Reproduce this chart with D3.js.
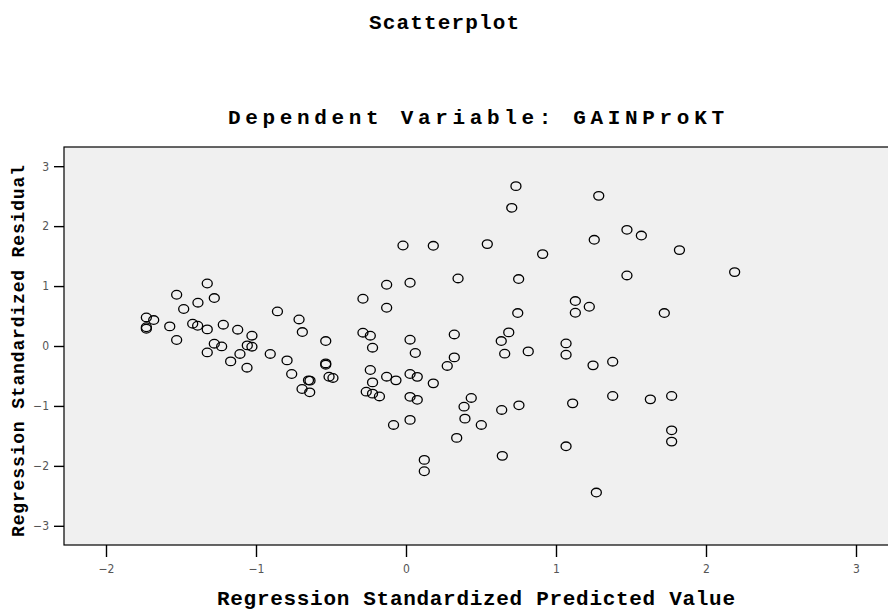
<!DOCTYPE html>
<html>
<head>
<meta charset="utf-8">
<script src="https://cdn.jsdelivr.net/npm/d3@7"></script>
<style>
 body { margin: 0; background: #fff; }
 svg { display: block; }
 .ttl { font-family: "Liberation Mono", "Courier New", monospace; font-weight: bold; fill: #000; }
 .tick text { font-family: "Liberation Sans Narrow", "DejaVu Sans Condensed", "Liberation Sans", sans-serif; font-size: 12px; fill: #555; }
</style>
</head>
<body>
<script>
var width = 888, height = 612;

// regression standardized predicted value (x) and residual (y)
var predicted = [
 -1.325, -1.529, -1.278, -1.387, -1.482, -0.857, -1.731, -1.682, -1.731, -1.731,
 -1.575, -1.422, -1.389, -1.325, -1.218, -1.122, -1.027, -1.529, -1.278, -1.229,
 -1.058, -1.027, -1.325, -1.107, -0.905, -1.169, -1.060,
 -0.713, -0.691, -0.535, -0.793, -0.762, -0.535, -0.535, -0.513, -0.487, -0.650,
 -0.640, -0.693, -0.642,
 -0.287, -0.129, 0.027, -0.129, -0.020, 0.182, 0.542, 0.347, 0.733, 0.705,
 0.911, 0.751, 0.745, -0.287, -0.238, -0.223, 0.027, 0.062, 0.322, 0.322,
 0.275, 0.685, 0.635, 0.658, 0.815, -0.238, -0.223, -0.129, -0.067, 0.027,
 0.075, 0.182, -0.265, -0.223, -0.177, 0.027, 0.075, 0.435, 0.387, 0.393,
 0.502, 0.338, 0.638, 0.753, 0.027, -0.083, 0.122, 0.122, 0.642,
 1.285, 1.255, 1.473, 1.569, 1.823, 2.191, 1.473, 1.129, 1.222, 1.129,
 1.722, 1.067, 1.067, 1.247, 1.378, 1.111, 1.378, 1.629, 1.771, 1.771,
 1.771, 1.067, 1.269
];
var residual = [
 1.043, 0.855, 0.800, 0.722, 0.617, 0.577, 0.477, 0.433, 0.313, 0.288,
 0.327, 0.372, 0.338, 0.277, 0.355, 0.272, 0.172, 0.100, 0.038, -0.007,
 0.010, -0.012, -0.107, -0.133, -0.133, -0.257, -0.362,
 0.443, 0.233, 0.083, -0.240, -0.467, -0.290, -0.312, -0.512, -0.533, -0.573,
 -0.578, -0.717, -0.773,
 0.788, 1.022, 1.055, 0.638, 1.677, 1.672, 1.700, 1.127, 2.667, 2.305,
 1.533, 1.117, 0.550, 0.222, 0.172, -0.028, 0.105, -0.117, 0.193, -0.190,
 -0.333, 0.227, 0.083, -0.128, -0.090, -0.400, -0.607, -0.512, -0.573, -0.467,
 -0.515, -0.623, -0.762, -0.795, -0.842, -0.848, -0.898, -0.867, -1.012, -1.212,
 -1.317, -1.533, -1.067, -0.990, -1.233, -1.317, -1.900, -2.090, -1.833,
 2.505, 1.772, 1.938, 1.843, 1.600, 1.233, 1.177, 0.750, 0.655, 0.555,
 0.550, 0.043, -0.145, -0.323, -0.262, -0.957, -0.833, -0.890, -0.833, -1.407,
 -1.595, -1.673, -2.445
];
var xTicks = [-2, -1, 0, 1, 2, 3];
var yTicks = [-3, -2, -1, 0, 1, 2, 3];

var points = predicted.map(function(d, i) { return {x: d, y: residual[i]}; });

var plot = {left: 64, top: 147, right: 892, bottom: 545};

var x = d3.scaleLinear().domain([-2, 3]).range([106, 856]);
var y = d3.scaleLinear().domain([-3.32, 3.32]).range([plot.bottom, plot.top]);

var svg = d3.select('body').append('svg').attr('width', width).attr('height', height);

// plot area
svg.append('rect')
 .attr('x', plot.left).attr('y', plot.top)
 .attr('width', plot.right - plot.left).attr('height', plot.bottom - plot.top)
 .attr('fill', '#f0f0f0').attr('stroke', '#000').attr('stroke-width', 1.2);

// axes
svg.append('g')
 .attr('transform', 'translate(0,' + plot.bottom + ')')
 .call(d3.axisBottom(x).tickValues(xTicks).tickFormat(d3.format('d')).tickSize(12).tickPadding(7));
svg.append('g')
 .attr('transform', 'translate(' + plot.left + ',0)')
 .call(d3.axisLeft(y).tickValues(yTicks).tickFormat(d3.format('d')).tickSize(10).tickPadding(5));
svg.selectAll('.domain').remove();
svg.selectAll('.tick line').attr('stroke', '#000').attr('stroke-width', 1.4);

// points
svg.append('g').selectAll('ellipse')
 .data(points)
 .join('ellipse')
 .attr('cx', function(d) { return x(d.x); })
 .attr('cy', function(d) { return y(d.y); })
 .attr('rx', 5)
 .attr('ry', 4.3)
 .attr('fill', 'none')
 .attr('stroke', '#000')
 .attr('stroke-width', 1.3);

// titles
function title(txt, size, len) {
 return svg.append('text').attr('class', 'ttl')
  .attr('text-anchor', 'middle')
  .style('font-size', size + 'px').attr('textLength', len).attr('lengthAdjust', 'spacing')
  .text(txt);
}
title('Scatterplot', 21, 150).attr('x', 444).attr('y', 29);
title('Dependent Variable: GAINProKT', 21, 496).attr('x', 476).attr('y', 124);
title('Regression Standardized Predicted Value', 21, 518).attr('x', 476).attr('y', 605);
title('Regression Standardized Residual', 18, 372).attr('transform', 'translate(24,351) rotate(-90)');
</script>
</body>
</html>
